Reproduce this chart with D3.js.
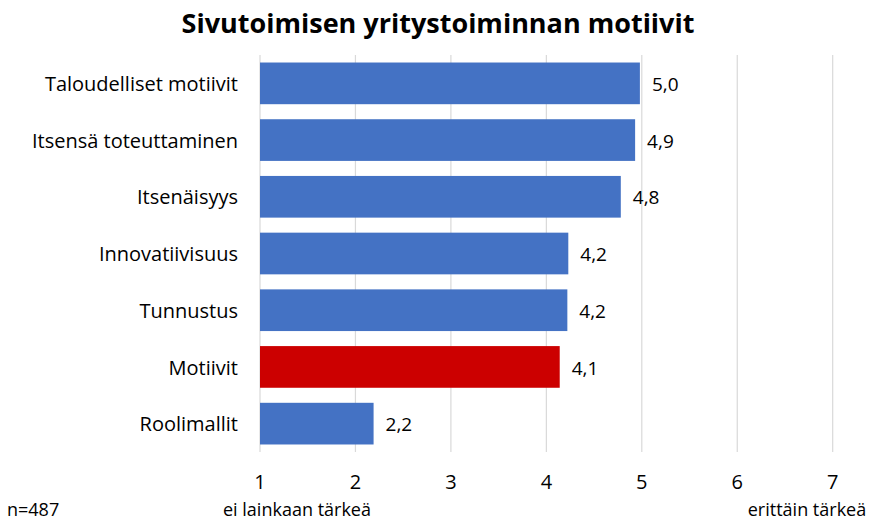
<!DOCTYPE html>
<html><head><meta charset="utf-8">
<script src="https://cdn.jsdelivr.net/npm/d3@7"></script>
<style>body{margin:0;background:#fff}svg{display:block}text{font-family:"Open Sans",Lato,sans-serif;fill:#000;font-variant-ligatures:none}</style>
</head><body><svg id="c" width="872" height="520"></svg>
<script>
const categories = ["Taloudelliset motiivit","Itsensä toteuttaminen","Itsenäisyys","Innovatiivisuus","Tunnustus","Motiivit","Roolimallit"];
const values = [4.98, 4.93, 4.78, 4.23, 4.22, 4.14, 2.19];
const highlight = ["Motiivit"];
const ticks = [1,2,3,4,5,6,7];
const title = "Sivutoimisen yritystoiminnan motiivit";
const axisLow = "ei lainkaan tärkeä", axisHigh = "erittäin tärkeä", note = "n=487";

const svg = d3.select("#c");
const x = d3.scaleLinear().domain([1,7]).range([260,832.7]);
const y = d3.scaleBand().domain(categories).range([55,452]).paddingInner(0.265).paddingOuter(0.1325);

svg.append("text").attr("x",438).attr("y",33).attr("text-anchor","middle")
  .attr("font-size",27).attr("font-weight","bold").text(title);

svg.append("g").selectAll("line").data(ticks).join("line")
  .attr("x1",d=>x(d)).attr("x2",d=>x(d)).attr("y1",55).attr("y2",452)
  .attr("stroke","#d9d9d9").attr("stroke-width",1.2);

svg.append("g").selectAll("rect").data(categories).join("rect")
  .attr("x",x(1)).attr("y",d=>y(d)).attr("height",y.bandwidth())
  .attr("width",(d,i)=>x(values[i])-x(1))
  .attr("fill",d=>highlight.includes(d)?"#CC0000":"#4472C4");

const fmt = v => d3.format(".1f")(v).replace(".",",");
svg.append("g").selectAll("text").data(categories).join("text")
  .attr("x",(d,i)=>x(values[i])+12).attr("y",d=>y(d)+y.bandwidth()/2)
  .attr("dy","0.4em").attr("font-size",19).text((d,i)=>fmt(values[i]));

svg.append("g").selectAll("text").data(categories).join("text")
  .attr("x",238).attr("y",d=>y(d)+y.bandwidth()/2).attr("dy","0.38em")
  .attr("text-anchor","end").attr("font-size",20).text(d=>d);

svg.append("g").selectAll("text").data(ticks).join("text")
  .attr("x",d=>x(d)).attr("y",489).attr("text-anchor","middle").attr("font-size",20).text(d=>d);

svg.append("text").attr("x",297).attr("y",516).attr("text-anchor","middle").attr("font-size",18).text(axisLow);
svg.append("text").attr("x",807).attr("y",516).attr("text-anchor","middle").attr("font-size",18).text(axisHigh);
svg.append("text").attr("x",7).attr("y",516).attr("font-size",18).text(note);
</script></body></html>
